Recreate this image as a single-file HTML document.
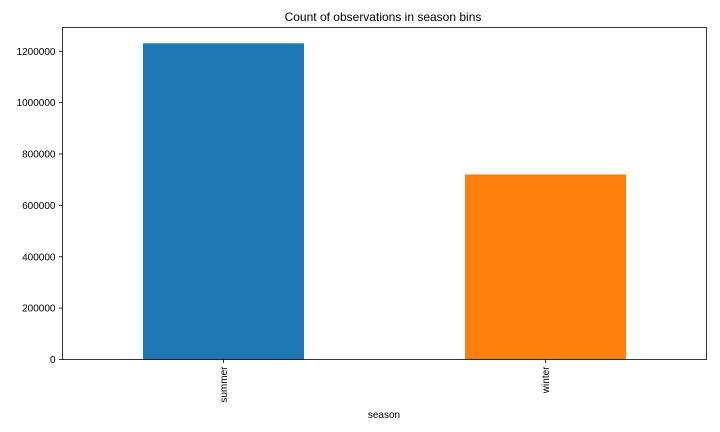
<!DOCTYPE html>
<html><head><meta charset="utf-8"><style>
body{margin:0;background:#fff;}
svg{display:block;font-family:"Liberation Sans","DejaVu Sans",sans-serif;}
</style></head><body>
<svg id="chart" width="720" height="432">
<rect width="720" height="432" fill="#fff"/>
<text x="383" y="21" text-anchor="middle" font-size="12" fill="#000">Count of observations in season bins</text>
<g id="bars"></g>
<g id="yaxis"></g>
<g id="xaxis"></g>
<rect x="62.5" y="27.5" width="644" height="332" fill="none" stroke="#000" stroke-width="0.8"/>
<text x="384" y="418" text-anchor="middle" font-size="10">season</text>
</svg>
<script>
const categories = ["summer", "winter"];
const counts = [1231000, 720500];
const colors = ["#1f77b4", "#ff7f0e"];
const yTicks = [0, 200000, 400000, 600000, 800000, 1000000, 1200000];

const L = 62.5, R = 706.5, T = 27.5, B = 359.5;
const yMax = Math.max(...counts) * 1.05;
const y = v => B - v / yMax * (B - T);
const n = categories.length;
const x = i => L + (i + 0.5) / n * (R - L);
const bw = 0.5 / n * (R - L);
const NS = "http://www.w3.org/2000/svg";
const mk = (t, a, p) => { const e = document.createElementNS(NS, t); for (const k in a) e.setAttribute(k, a[k]); p.appendChild(e); return e; };

const bars = document.getElementById("bars");
counts.forEach((v, i) => {
  const r = mk("rect", {x: x(i) - bw / 2, y: y(v), width: bw, height: B - y(v), fill: colors[i]}, bars);
  
  
});
const ya = document.getElementById("yaxis");
yTicks.forEach(t => {
  const yy = y(t);
  const l = mk("line", {x1: L - 3.5, x2: L, y1: yy, y2: yy, stroke: "#000", "stroke-width": 0.8}, ya);
  
  
  const tx = mk("text", {x: L - 7, y: yy + 3.5, "text-anchor": "end", "font-size": 10}, ya);
  tx.textContent = t;
  
  
});
const xa = document.getElementById("xaxis");
categories.forEach((c, i) => {
  const xx = x(i);
  const l = mk("line", {x1: xx, x2: xx, y1: B, y2: B + 3.5, stroke: "#000", "stroke-width": 0.8}, xa);
  
  
  const tx = mk("text", {x: xx + 3.5, y: B + 7, "text-anchor": "end", "font-size": 10, transform: `rotate(-90 ${xx + 3.5} ${B + 7})`}, xa);
  tx.textContent = c;
  
  
});
</script>
</body></html>
